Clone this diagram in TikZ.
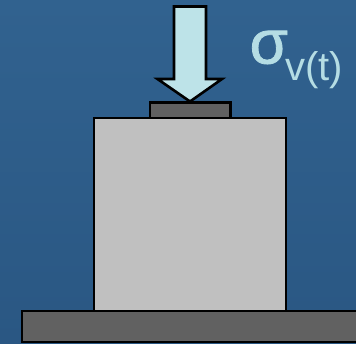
\documentclass[tikz,border=0pt]{standalone}
\usepackage{fontspec}
\setmainfont{Liberation Sans}
\newfontfamily\sigmafont[FakeBold=1.3]{Liberation Sans}
\definecolor{bgtop}{HTML}{31628F}
\definecolor{bgbot}{HTML}{2A5783}
\definecolor{arrowfill}{HTML}{BDE3E8}
\definecolor{labelcol}{HTML}{B5DDE4}
\definecolor{darkplate}{HTML}{616161}
\definecolor{blockgray}{HTML}{C0C0C0}
\begin{document}
\begin{tikzpicture}[x=1pt,y=-1pt,
  part/.style={draw=black,line width=2.6pt,line join=miter},
  lbl/.style={text=labelcol,inner sep=0pt,anchor=base west}]
\useasboundingbox (0,0) rectangle (356,343);
\clip (0,0) rectangle (356,343);
\shade[top color=bgtop,bottom color=bgbot] (0,0) rectangle (356,343);
% base
\draw[part,fill=darkplate] (22,311) rectangle (370,342);
% block
\draw[part,fill=blockgray] (94,118) rectangle (286,311);
% small plate
\draw[part,fill=darkplate] (150,102.5) rectangle (230.5,118);
% arrow
\draw[part,fill=arrowfill] (174,6.5) -- (206,6.5) -- (206,79) -- (222,79) -- (190,101.5) -- (157.5,79) -- (174,79) -- cycle;
% label
\node[lbl,font=\sigmafont\fontsize{62}{62}\selectfont] (sig) at (249.5,63.5) {σ};
\node[lbl,font=\fontsize{40}{40}\selectfont] (sub) at (285,80) {v(t)};
\end{tikzpicture}
\end{document}
